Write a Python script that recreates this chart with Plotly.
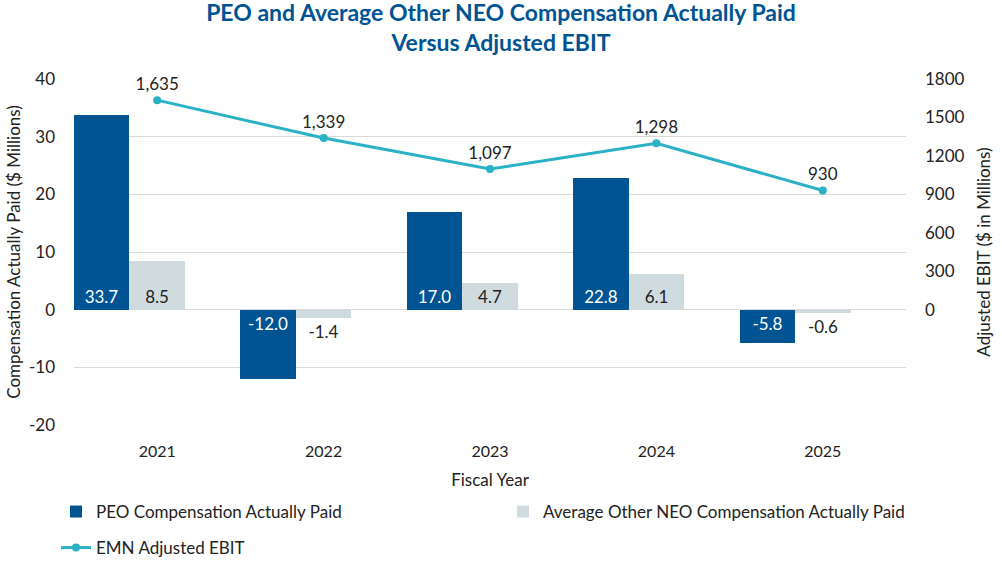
import plotly.graph_objects as go

years = ["2021", "2022", "2023", "2024", "2025"]
peo_cap = [33.7, -12.0, 17.0, 22.8, -5.8]
neo_cap = [8.5, -1.4, 4.7, 6.1, -0.6]
ebit = [1635, 1339, 1097, 1298, 930]
left_ticks = [-20, -10, 0, 10, 20, 30, 40]
left_tick_text = ["-20", "-10", "0", "10", "20", "30", "40"]
right_ticks = [0, 300, 600, 900, 1200, 1500, 1800]

FONT = "Lato, 'Source Sans Pro', sans-serif"
DARK = "#005493"
LIGHT = "#CFDBDF"
TEAL = "#2AB1C5"
TXT = "#222222"

fig = go.Figure()
fig.add_trace(go.Bar(
    x=years, y=peo_cap, name="PEO Compensation Actually Paid",
    marker=dict(color=DARK, line=dict(width=0)),
    width=1/3, offset=-0.5,
    text=[f"{v:.1f}" for v in peo_cap], textposition="inside",
    insidetextanchor="start", textfont=dict(color="white", size=17, family=FONT),
    constraintext="none", cliponaxis=False, legend="legend", showlegend=True,
))
fig.add_trace(go.Bar(
    x=years, y=neo_cap, name="Average Other NEO Compensation Actually Paid",
    marker=dict(color=LIGHT, line=dict(width=0)),
    width=1/3, offset=-1/6,
    text=[f"{v:.1f}" for v in neo_cap],
    textposition=["inside" if v > 3 else "outside" for v in neo_cap],
    insidetextanchor="start", textfont=dict(color=TXT, size=17, family=FONT),
    constraintext="none", cliponaxis=False, legend="legend2", showlegend=True,
))
fig.add_trace(go.Scatter(
    x=years, y=ebit, name="EMN Adjusted EBIT", yaxis="y2",
    mode="lines+markers+text",
    line=dict(color=TEAL, width=3), marker=dict(color=TEAL, size=8),
    text=[f"{v:,}" for v in ebit], textposition="top center",
    textfont=dict(color=TXT, size=17, family=FONT), cliponaxis=False,
    legend="legend3", showlegend=True,
))

leg_common = dict(orientation="h", xref="container", yref="container",
                  xanchor="left", yanchor="middle", font=dict(size=17))

fig.update_layout(
    width=1002, height=562,
    margin=dict(l=74, r=92, t=79, b=137),
    paper_bgcolor="white", plot_bgcolor="white",
    font=dict(family=FONT, color=TXT, size=16),
    barmode="overlay", bargap=0, showlegend=True,
    title=dict(
        text="PEO and Average Other NEO Compensation Actually Paid<br>Versus Adjusted EBIT",
        x=0.5, xanchor="center", yref="container", y=0.962, yanchor="top",
        font=dict(family=FONT, size=23, color=DARK, weight="bold"),
    ),
    xaxis=dict(
        type="category", showgrid=False, showline=False, ticks="",
        tickfont=dict(size=16), ticklabelstandoff=15, automargin=False,
        title=dict(text="Fiscal Year", font=dict(size=17)),
    ),
    yaxis=dict(
        range=[-20, 40], tickvals=left_ticks, ticktext=left_tick_text,
        showgrid=True, gridcolor="#D9D9D9",
        gridwidth=1, zeroline=True, zerolinecolor="#D9D9D9", zerolinewidth=1,
        showline=False, tickfont=dict(size=17), ticklabelstandoff=18,
        automargin=True,
        title=dict(text="Compensation Actually Paid ($ Millions)", font=dict(size=17), standoff=4),
    ),
    yaxis2=dict(
        overlaying="y", side="right", range=[-900, 1800], tickvals=right_ticks,
        showgrid=False, zeroline=False, showline=False, tickfont=dict(size=17),
        ticklabelstandoff=18, automargin=True,
        title=dict(text="Adjusted EBIT ($ in Millions)", font=dict(size=17), standoff=14),
    ),
    legend=dict(x=0.0559, y=0.0890, **leg_common),
    legend2=dict(x=0.502, y=0.0890, **leg_common),
    legend3=dict(x=0.0559, y=0.0249, **leg_common),
)

fig.write_html("out.html", config={"displayModeBar": False},
               post_script="document.body.style.margin='0px';")
